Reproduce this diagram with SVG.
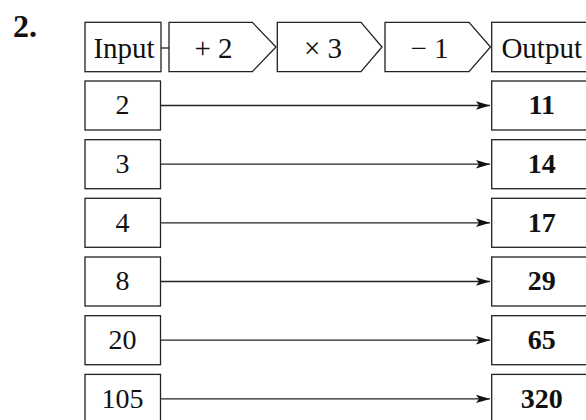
<svg xmlns="http://www.w3.org/2000/svg" width="586" height="420" viewBox="0 0 586 420">
<defs>
<style>
.box{fill:#fff;stroke:#222;stroke-width:1.3}
.t{font-family:"Liberation Serif","Times New Roman",serif;font-size:29px;fill:#111;text-anchor:middle}
.n{font-family:"Liberation Serif","Times New Roman",serif;font-size:28px;fill:#111;text-anchor:middle}
.b{font-weight:bold}
.ln{stroke:#222;stroke-width:1.3;fill:none}
</style>
<marker id="ah" viewBox="0 0 14 10" refX="14" refY="5" markerWidth="14" markerHeight="10" markerUnits="userSpaceOnUse" orient="auto">
<path d="M0,0.8 L14,5 L0,9.2 L3,5 z" fill="#111"/>
</marker>
</defs>
<rect width="586" height="420" fill="#fff"/>
<text x="13" y="36.5" font-family="Liberation Serif,serif" font-size="32" font-weight="bold" fill="#111">2.</text>

<g id="connectors">
<line class="ln" x1="161" y1="48" x2="169" y2="48"/>
<line class="ln" x1="160" y1="105.5" x2="490" y2="105.5" marker-end="url(#ah)"/>
<line class="ln" x1="160" y1="164.2" x2="490" y2="164.2" marker-end="url(#ah)"/>
<line class="ln" x1="160" y1="222.8" x2="490" y2="222.8" marker-end="url(#ah)"/>
<line class="ln" x1="160" y1="281.5" x2="490" y2="281.5" marker-end="url(#ah)"/>
<line class="ln" x1="160" y1="340.2" x2="490" y2="340.2" marker-end="url(#ah)"/>
<line class="ln" x1="160" y1="398.9" x2="490" y2="398.9" marker-end="url(#ah)"/>
</g>

<g id="input-header"><rect class="box" x="85" y="22.3" width="76" height="49.4"/><text class="t" x="124" y="58.3">Input</text></g>
<g id="op-plus2"><path class="box" d="M169,22.3 H252.3 L276,47 L252.3,71.7 H169 Z"/><text class="t" x="213.5" y="58.3">+ 2</text></g>
<g id="op-times3"><path class="box" d="M277.3,22.3 H361 L382,47 L361,71.7 H277.3 Z"/><text class="t" x="323" y="58.3">× 3</text></g>
<g id="op-minus1"><path class="box" d="M385,22.3 H469 L490.5,47 L469,71.7 H385 Z"/><text class="t" x="429.5" y="58.3">− 1</text></g>
<g id="output-header"><rect class="box" x="491.7" y="22.3" width="100" height="49.4"/><text class="t" x="541.7" y="58.3">Output</text></g>

<g id="in-2"><rect class="box" x="85" y="81" width="75.5" height="49"/><text class="n" x="122.5" y="114.3">2</text></g>
<g id="in-3"><rect class="box" x="85" y="139.7" width="75.5" height="49"/><text class="n" x="122.5" y="173">3</text></g>
<g id="in-4"><rect class="box" x="85" y="198.3" width="75.5" height="49"/><text class="n" x="122.5" y="231.6">4</text></g>
<g id="in-8"><rect class="box" x="85" y="257" width="75.5" height="49"/><text class="n" x="122.5" y="290.3">8</text></g>
<g id="in-20"><rect class="box" x="85" y="315.7" width="75.5" height="49"/><text class="n" x="122.5" y="349">20</text></g>
<g id="in-105"><rect class="box" x="85" y="374.4" width="75.5" height="49"/><text class="n" x="122.5" y="407.7">105</text></g>

<g id="out-11"><rect class="box" x="491.7" y="81" width="100" height="49"/><text class="n b" x="541.7" y="114.3">11</text></g>
<g id="out-14"><rect class="box" x="491.7" y="139.7" width="100" height="49"/><text class="n b" x="541.7" y="173">14</text></g>
<g id="out-17"><rect class="box" x="491.7" y="198.3" width="100" height="49"/><text class="n b" x="541.7" y="231.6">17</text></g>
<g id="out-29"><rect class="box" x="491.7" y="257" width="100" height="49"/><text class="n b" x="541.7" y="290.3">29</text></g>
<g id="out-65"><rect class="box" x="491.7" y="315.7" width="100" height="49"/><text class="n b" x="541.7" y="349">65</text></g>
<g id="out-320"><rect class="box" x="491.7" y="374.4" width="100" height="49"/><text class="n b" x="541.7" y="407.7">320</text></g>
</svg>
